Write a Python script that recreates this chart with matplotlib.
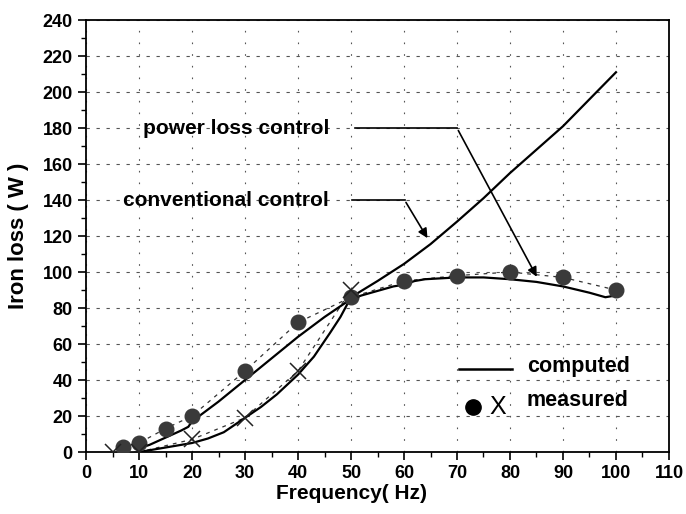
import matplotlib
matplotlib.use('Agg')
import matplotlib.pyplot as plt
from matplotlib.ticker import MultipleLocator

plt.rcParams['font.family'] = ['Liberation Sans', 'DejaVu Sans']
plt.rcParams['font.weight'] = 'bold'

# measured points
meas_pl_f = [7, 10, 15, 20, 30, 40, 50, 60, 70, 80, 90, 100]
meas_pl_v = [3, 5, 13, 20, 45, 72, 86, 95, 98, 100, 97, 90]
meas_cc_f = [5, 10, 20, 30, 40, 50]
meas_cc_v = [0, 0, 7, 19, 45, 90]

# computed curves
comp_pl_f = [10, 12, 15, 18, 19.3, 20, 25, 30, 35, 40, 45, 50, 52, 55, 58, 60, 62, 64,
             70, 75, 80, 85, 90, 95, 98, 100]
comp_pl_v = [2, 4, 8, 12, 14, 17, 28, 40, 52, 64, 75, 85, 87, 89.5, 92, 93, 95, 96,
             97, 97, 96, 94.5, 92, 88.5, 86, 87]
comp_cc_f = [10, 12, 15, 20, 23, 26, 28, 30, 33, 36, 40, 43, 46, 48, 50,
             55, 60, 65, 70, 75, 80, 85, 90, 95, 100]
comp_cc_v = [0, 1, 2.5, 5, 7.5, 11, 15, 19, 25, 32, 43, 53, 66, 75, 86,
             95, 104.5, 115.5, 128, 141, 155, 168, 181, 196, 211]

fig = plt.figure(figsize=(6.86, 5.14), dpi=100)
ax = fig.add_axes([0.1254, 0.1206, 0.8498, 0.8404])

ax.plot(comp_cc_f, comp_cc_v, color='black', lw=1.6, zorder=4)
ax.plot(comp_pl_f, comp_pl_v, color='black', lw=1.6, zorder=4)
ax.plot(meas_pl_f, meas_pl_v, color='#333333', lw=0.9, ls=(0, (3, 4)), zorder=3)
ax.plot(meas_cc_f, meas_cc_v, color='#333333', lw=0.9, ls=(0, (3, 4)), zorder=3)
ax.plot(meas_pl_f, meas_pl_v, 'o', color='#3a3a3a', ms=10.5, zorder=5)
ax.plot(meas_cc_f, meas_cc_v, 'x', color='#222222', ms=11, mew=1.1, zorder=5)

# annotations
ax.text(10.7, 180, 'power loss control', fontsize=15, va='center', ha='left')
ax.plot([50.7, 70], [180, 180], color='black', lw=1.2)
ax.annotate('', xy=(85.3, 96), xytext=(70, 180),
            arrowprops=dict(arrowstyle='-|>', color='black', lw=1.2, mutation_scale=14))
ax.text(7, 140, 'conventional control', fontsize=15, va='center', ha='left')
ax.plot([50.2, 60.1], [140, 140], color='black', lw=1.2)
ax.annotate('', xy=(64.7, 117.5), xytext=(60.1, 140),
            arrowprops=dict(arrowstyle='-|>', color='black', lw=1.2, mutation_scale=14))

# legend drawn by hand
ax.plot([70.3, 80.3], [46, 46], color='black', lw=1.8)
ax.text(83.2, 47.5, 'computed', fontsize=15.5, va='center', ha='left')
ax.plot([73], [25], 'o', color='black', ms=11)
ax.text(77.7, 25, 'X', fontsize=18, fontweight='normal', va='center', ha='center')
ax.text(83.2, 28.5, 'measured', fontsize=15.5, va='center', ha='left')

ax.set_xlim(0, 110)
ax.set_ylim(0, 240)
ax.xaxis.set_major_locator(MultipleLocator(10))
ax.xaxis.set_minor_locator(MultipleLocator(5))
ax.yaxis.set_major_locator(MultipleLocator(20))
ax.yaxis.set_minor_locator(MultipleLocator(10))
ax.tick_params(which='major', length=6, width=1.2, labelsize=13, direction='out')
ax.tick_params(which='minor', length=3.5, width=1.0, direction='out')
for lab in ax.get_xticklabels() + ax.get_yticklabels():
    lab.set_fontweight('bold')
ax.xaxis.grid(True, color='#555555', lw=0.8, ls=(0, (1.5, 9)))
ax.yaxis.grid(True, color='#555555', lw=0.8, ls=(0, (3, 6)))
for sp in ax.spines.values():
    sp.set_linewidth(1.3)

ax.set_xlabel('Frequency( Hz)', fontsize=15, fontweight='bold')
ax.xaxis.set_label_coords(50 / 110, -0.075)
ax.set_ylabel('Iron loss ( W )', fontsize=16, fontweight='bold')
ax.yaxis.set_label_coords(-0.097, 0.5)

fig.savefig('out.png', dpi=100, facecolor='white')
